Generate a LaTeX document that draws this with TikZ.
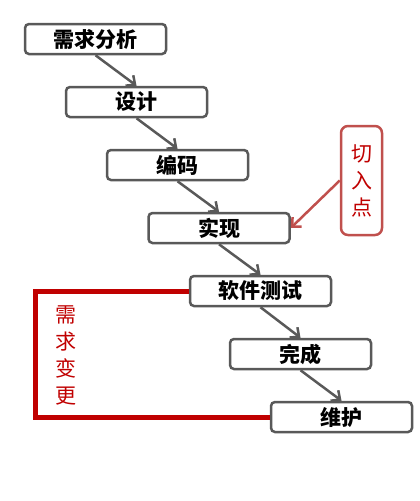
\documentclass[tikz,border=0pt]{standalone}
\usepackage{fontspec}
\setmainfont{Noto Sans CJK SC}
\usetikzlibrary{arrows.meta, positioning}
\usepackage{xcolor}
\definecolor{flowGray}{HTML}{595959}
\definecolor{changeRed}{HTML}{C00000}
\definecolor{entryRed}{HTML}{C0504D}
\tikzset{
    phase/.style={rectangle, rounded corners=4pt, draw=flowGray, fill=white, line width=2.5pt, minimum width=141pt, minimum height=30pt, inner sep=0pt, font=\fontsize{21}{21}\selectfont\bfseries},
    flowarrow/.style={-{Straight Barb[length=7pt, width=13pt]}, line width=2.5pt, draw=flowGray},
    entrybox/.style={rectangle, rounded corners=7pt, draw=entryRed, fill=white, line width=2.5pt, minimum width=41pt, minimum height=109pt, inner sep=0pt, text=changeRed, align=center, font=\fontsize{21}{27}\selectfont},
    entryarrow/.style={-{Straight Barb[length=7pt, width=13pt]}, line width=2.5pt, draw=entryRed},
    changeline/.style={draw=changeRed, line width=5pt},
    redlabel/.style={text=changeRed, align=center, font=\fontsize{21}{27}\selectfont},
}
\begin{document}
\begin{tikzpicture}[x=1pt, y=-1pt]
    \useasboundingbox (0,0) rectangle (420,501);
    % phases of the process
    \node[phase] (analysis) at (95.5,39) {需求分析};
    \node[phase] (design) at (136.5,102) {设计};
    \node[phase] (coding) at (177.5,165) {编码};
    \node[phase] (impl) at (219,228) {实现};
    \node[phase] (testing) at (260.5,291) {软件测试};
    \node[phase] (done) at (300.5,354) {完成};
    \node[phase] (maint) at (341.5,417) {维护};
    \draw[flowarrow] (analysis.south) -- (design.north);
    \draw[flowarrow] (design.south) -- (coding.north);
    \draw[flowarrow] (coding.south) -- (impl.north);
    \draw[flowarrow] (impl.south) -- (testing.north);
    \draw[flowarrow] (testing.south) -- (done.north);
    \draw[flowarrow] (done.south) -- (maint.north);
    % entry point
    \node[entrybox] (entry) at (361.5,180.5) {切\\入\\点};
    \draw[entryarrow] (entry.west) -- (impl.east);
    % requirement change loop
    \draw[changeline] (testing.west) -- ++(-153,0) coordinate (loopTop) |- (maint.west);
    \node[redlabel] (change) at (66,355) {需\\求\\变\\更};
\end{tikzpicture}
\end{document}
